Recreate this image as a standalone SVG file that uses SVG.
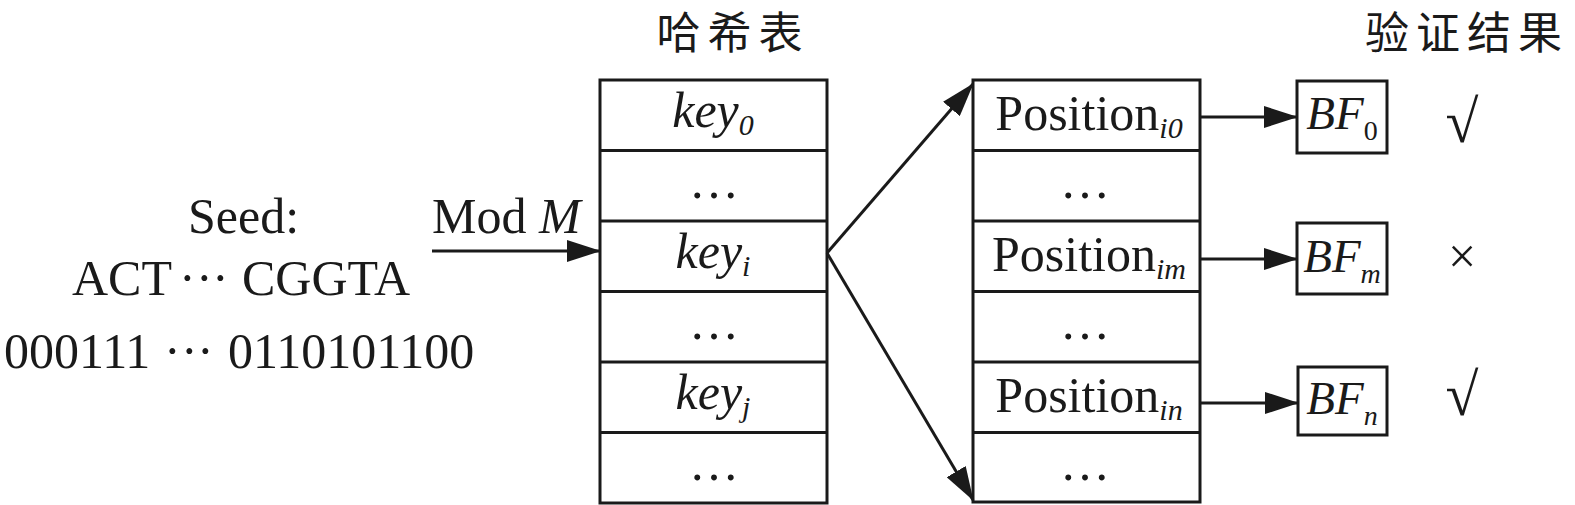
<svg xmlns="http://www.w3.org/2000/svg" width="1575" height="505" viewBox="0 0 1575 505">
<style>
text{font-family:"Liberation Serif","Times New Roman",serif;fill:#1a1a1a}
.t{font-size:50px}
.it{font-style:italic}
.sub{font-size:30px}
.cjk{font-family:"Noto Sans CJK SC",sans-serif;font-size:44px;letter-spacing:7px}
.box{fill:#fff;stroke:#1a1a1a;stroke-width:3}
.div{stroke:#1a1a1a;stroke-width:3}
.ln{stroke:#1a1a1a;stroke-width:3;fill:none}
.chk{font-size:60px}
</style>
<defs>
<marker id="ah" markerUnits="userSpaceOnUse" markerWidth="34" markerHeight="22" refX="33" refY="11" orient="auto">
<path d="M0,0 L34,11 L0,22 z" fill="#1a1a1a"/>
</marker>
</defs>

<g id="seed">
<text class="t" x="188" y="233">Seed:</text>
<text class="t" x="72" y="295">ACT</text>
<text class="t" x="179 196 212" y="295">···</text>
<text class="t" x="242" y="295">CGGTA</text>
<text class="t" x="4" y="368">000111</text>
<text class="t" x="164 181 197" y="368">···</text>
<text class="t" x="228" y="368">0110101100</text>
</g>

<g id="modlabel">
<text class="t" x="432" y="233">Mod <tspan class="it">M</tspan></text>
</g>

<g id="hashtitle">
<text class="cjk" x="733" y="49" text-anchor="middle">哈希表</text>
</g>

<g id="hashtable">
<rect class="box" x="600" y="80" width="227" height="423"/>
<line class="div" x1="600" y1="150.5" x2="827" y2="150.5"/>
<line class="div" x1="600" y1="221" x2="827" y2="221"/>
<line class="div" x1="600" y1="291.5" x2="827" y2="291.5"/>
<line class="div" x1="600" y1="362" x2="827" y2="362"/>
<line class="div" x1="600" y1="432.5" x2="827" y2="432.5"/>
<text class="t" x="713" y="127" text-anchor="middle"><tspan class="it">key</tspan><tspan class="it sub" dy="8">0</tspan></text>
<text class="t" x="714" y="198" text-anchor="middle">…</text>
<text class="t" x="713" y="268" text-anchor="middle"><tspan class="it">key</tspan><tspan class="it sub" dy="8">i</tspan></text>
<text class="t" x="714" y="339" text-anchor="middle">…</text>
<text class="t" x="713" y="409" text-anchor="middle"><tspan class="it">key</tspan><tspan class="it sub" dy="8">j</tspan></text>
<text class="t" x="714" y="480" text-anchor="middle">…</text>
</g>

<g id="positiontable">
<rect class="box" x="973" y="80" width="227" height="422"/>
<line class="div" x1="973" y1="150.5" x2="1200" y2="150.5"/>
<line class="div" x1="973" y1="221" x2="1200" y2="221"/>
<line class="div" x1="973" y1="291.5" x2="1200" y2="291.5"/>
<line class="div" x1="973" y1="362" x2="1200" y2="362"/>
<line class="div" x1="973" y1="432.5" x2="1200" y2="432.5"/>
<text class="t" x="1089" y="130" text-anchor="middle">Position<tspan class="it sub" dy="8">i0</tspan></text>
<text class="t" x="1085" y="198" text-anchor="middle">…</text>
<text class="t" x="1089" y="271" text-anchor="middle">Position<tspan class="it sub" dy="8">im</tspan></text>
<text class="t" x="1085" y="339" text-anchor="middle">…</text>
<text class="t" x="1089" y="412" text-anchor="middle">Position<tspan class="it sub" dy="8">in</tspan></text>
<text class="t" x="1085" y="480" text-anchor="middle">…</text>
</g>

<g id="bf0">
<rect class="box" x="1297" y="81" width="90" height="72"/>
<text x="1342" y="129" text-anchor="middle" font-size="47"><tspan class="it">BF</tspan><tspan font-size="28" dy="11">0</tspan></text>
</g>
<g id="bfm">
<rect class="box" x="1297" y="223" width="90" height="71"/>
<text x="1342" y="272" text-anchor="middle" font-size="47"><tspan class="it">BF</tspan><tspan class="it" font-size="28" dy="11">m</tspan></text>
</g>
<g id="bfn">
<rect class="box" x="1298" y="367" width="89" height="68"/>
<text x="1342" y="414" text-anchor="middle" font-size="47"><tspan class="it">BF</tspan><tspan class="it" font-size="28" dy="11">n</tspan></text>
</g>

<g id="resulttitle">
<text class="cjk" x="1467" y="49" text-anchor="middle">验证结果</text>
</g>
<g id="results">
<text class="chk" x="1462" y="142" text-anchor="middle">√</text>
<text class="t" x="1462" y="273" text-anchor="middle">×</text>
<text class="chk" x="1462" y="415" text-anchor="middle">√</text>
</g>

<g id="connectors">
<line class="ln" x1="432" y1="251" x2="600" y2="251" marker-end="url(#ah)"/>
<line class="ln" x1="827" y1="253" x2="973" y2="84" marker-end="url(#ah)"/>
<line class="ln" x1="827" y1="253" x2="973" y2="500" marker-end="url(#ah)"/>
<line class="ln" x1="1200" y1="117" x2="1297" y2="117" marker-end="url(#ah)"/>
<line class="ln" x1="1200" y1="259" x2="1297" y2="259" marker-end="url(#ah)"/>
<line class="ln" x1="1200" y1="403" x2="1298" y2="403" marker-end="url(#ah)"/>
</g>
</svg>
